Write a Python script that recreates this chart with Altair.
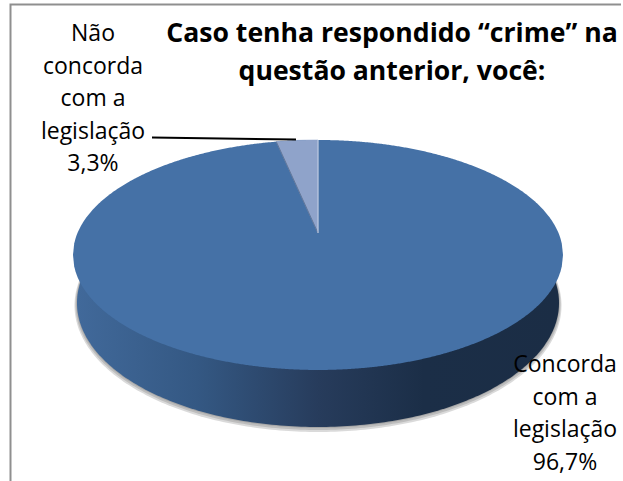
import numpy as np
import pandas as pd
import altair as alt

# Survey shares, in percent, clockwise from twelve o'clock
categories = ["Concorda com a legislação", "Não concorda com a legislação"]
shares = [96.7, 3.3]
label_texts = ["Concorda\ncom a\nlegislação\n96,7%", "Não\nconcorda\ncom a\nlegislação\n3,3%"]
label_x = [565, 93]
label_y = [372, 41]
title_lines = ["Caso tenha respondido “crime” na", "questão anterior, você:"]

W, H = 623, 481
FONT = "Open Sans"
TOP_BLUE = "#4571a6"
WEDGE_BLUE = "#8fa3ca"


def disk_edge(t, cx=318.0, cy=233.0, ax=240.5, by=110.8, k=0.191):
    """Rim of the tilted pie top, with perspective, at clockwise angle t."""
    u, v = np.sin(t), np.cos(t)
    s = 1 + k * v
    return cx + ax * u / s, cy - by * v / s


def ellipse_band(cx, cy, a, b, n=181):
    t = np.linspace(0, np.pi, n)
    x = cx - a * np.cos(t)
    return pd.DataFrame({"x": x, "y": cy - b * np.sin(t), "y2": cy + b * np.sin(t)})


def poly_frame(xs, ys):
    return pd.DataFrame({"x": xs, "y": ys, "o": np.arange(len(xs))})


x_scale = alt.Scale(domain=[0, W], range=[0, W])
y_scale = alt.Scale(domain=[0, H], range=[0, H])
X = alt.X("x:Q", scale=x_scale, axis=None)
Y = alt.Y("y:Q", scale=y_scale, axis=None)
Y2 = alt.Y2("y2:Q")


def ellipse(df, **mark):
    return alt.Chart(df).mark_area(**mark).encode(x=X, y=Y, y2=Y2)


# Side wall: lower rim drawn as a full disk with a dark horizontal gradient
wall = alt.Gradient(
    gradient="linear", x1=0, x2=1, y1=0, y2=0,
    stops=[
        alt.GradientStop(offset=0, color="#41699a"),
        alt.GradientStop(offset=0.25, color="#345883"),
        alt.GradientStop(offset=0.5, color="#273c5c"),
        alt.GradientStop(offset=0.72, color="#1b2e47"),
        alt.GradientStop(offset=1, color="#1b2d45"),
    ],
)

# Soft shadow under the wall, built from stacked translucent disks
shadow = [
    ellipse(ellipse_band(318, 303 + d, 241 + d, 124 + d), color="#555555", opacity=0.22)
    for d in (2.5, 1.5, 0.5)
]
base = ellipse(ellipse_band(318, 303, 241, 124), color=wall)

# Pie top: whole rim first, then the small wedge over it
tt = np.linspace(0, 2 * np.pi, 4001)
ex, ey = disk_edge(tt)
mid = (ey.min() + ey.max()) / 2
grid = np.linspace(ex.min(), ex.max(), 400)


def rim_side(mask):
    xs, ys = ex[mask], ey[mask]
    idx = np.argsort(xs)
    return np.interp(grid, xs[idx], ys[idx])


top_df = pd.DataFrame({"x": grid, "y": rim_side(ey < mid), "y2": rim_side(ey >= mid)})
top = ellipse(top_df, color=TOP_BLUE)

# Small wedge, going counter-clockwise from twelve o'clock
small = shares[1] / sum(shares) * 2 * np.pi
tw = np.linspace(-small, 0, 40)
wx, wy = disk_edge(tw)
apex_x, apex_y = disk_edge(np.array([0.0]), by=0.0)
wedge_df = poly_frame(np.r_[apex_x, wx, apex_x], np.r_[apex_y, wy, apex_y])
wedge = alt.Chart(wedge_df).mark_line(
    fill=WEDGE_BLUE, stroke=WEDGE_BLUE, strokeWidth=0.5, interpolate="linear"
).encode(x=X, y=Y, order="o:Q")
edge_left = alt.Chart(poly_frame([apex_x[0], wx[0]], [apex_y[0], wy[0]])).mark_line(
    stroke="#5a6f8f", strokeWidth=0.8
).encode(x=X, y=Y, order="o:Q")
edge_right = alt.Chart(poly_frame([apex_x[0], wx[-1]], [apex_y[0], wy[-1]])).mark_line(
    stroke="#c9d3e6", strokeWidth=1
).encode(x=X, y=Y, order="o:Q")

# Leader line from the small slice's label
leader = alt.Chart(poly_frame([152, 296], [137.5, 139.5])).mark_line(
    stroke="#000000", strokeWidth=2
).encode(x=X, y=Y, order="o:Q")

# Frame of the chart box: left and top sides
frame = alt.Chart(poly_frame([10.5, 10.5, 621], [481, 4.5, 4.5])).mark_line(
    stroke="#8f8f8f", strokeWidth=2
).encode(x=X, y=Y, order="o:Q")

labels_df = pd.DataFrame({"category": categories, "text": label_texts, "x": label_x, "y": label_y})
labels = alt.Chart(labels_df).mark_text(
    font=FONT, fontSize=23, color="#000000", align="center", baseline="alphabetic",
    lineBreak="\n", lineHeight=32.5,
).encode(x=X, y=Y, text="text:N")

title_df = pd.DataFrame({"text": title_lines, "x": [392, 392], "y": [42, 80]})
title = alt.Chart(title_df).mark_text(
    font=FONT, fontSize=26.6, fontWeight="bold", color="#000000", align="center", baseline="alphabetic",
).encode(x=X, y=Y, text="text:N")

chart = alt.layer(
    *shadow, base, top, wedge, edge_left, edge_right, leader, frame, labels, title
).properties(
    width=W, height=H, padding=0, autosize=alt.AutoSizeParams(type="none"),
    background="#ffffff",
).configure_view(stroke=None)

chart.save("out.html", embed_options={"renderer": "svg", "actions": False})
